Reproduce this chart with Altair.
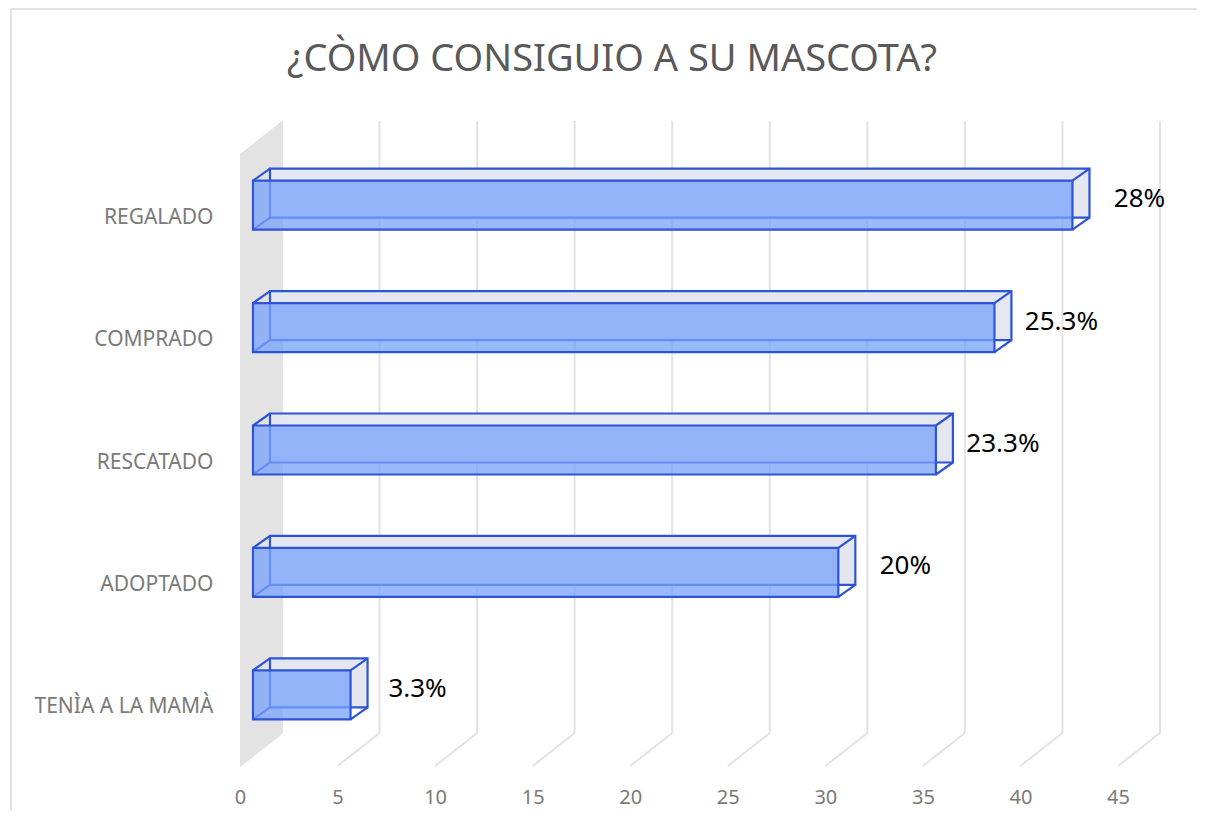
import json
import altair as alt
import pandas as pd

# ---------------- data ----------------
categories = ["REGALADO", "COMPRADO", "RESCATADO", "ADOPTADO", "TENÌA A LA MAMÀ"]
counts = [42, 38, 35, 30, 5]
pct_labels = ["28%", "25.3%", "23.3%", "20%", "3.3%"]
x_ticks = [0, 5, 10, 15, 20, 25, 30, 35, 40, 45]
title_text = "¿CÒMO CONSIGUIO A SU MASCOTA?"

# ---------------- style ----------------
W, H = 878, 612
BAR_DX, BAR_DY = 17, -12       # depth of each 3D bar
WALL_DX, WALL_DY = 29, -23     # back wall relative to bar front plane
FLOOR_DX, FLOOR_DY = -13, 10   # front floor edge relative to bar front plane
HALF = 0.2                     # half bar thickness (in category units)
BLUE = "#2D54D6"
FRONT = "#78A2FC"
SIDE = "#E4E7EF"
GRID = "#E3E3E3"
WALL = "#E3E3E3"
FONT = "Noto Sans"
LABEL_GREY = "#7A7A7A"

bars = pd.DataFrame({"cat": categories, "count": counts, "label": pct_labels})
bars["idx"] = range(len(categories))
bars["y0"] = bars["idx"] + 0.5 - HALF
bars["y1"] = bars["idx"] + 0.5 + HALF
bars["yc"] = bars["idx"] + 0.5
bars["zero"] = 0

corners = pd.concat([
    bars.assign(cx=0, cy=bars["y0"]),
    bars.assign(cx=bars["count"], cy=bars["y0"]),
    bars.assign(cx=bars["count"], cy=bars["y1"]),
    bars.assign(cx=0, cy=bars["y1"]),
], ignore_index=True)

grid = pd.DataFrame({"t": x_ticks})
grid["top"] = 0
grid["bot"] = len(categories)

wall = pd.DataFrame({"x0": [0], "ytop": [0]})
one = pd.DataFrame({"a": [0]})

xs = alt.Scale(domain=[0, 45], nice=False, zero=False)
ys = alt.Scale(domain=[0, len(categories)], nice=False, zero=False, reverse=True)

label_expr = json.dumps(categories, ensure_ascii=False) + "[floor(datum.value)]"

XAX = alt.Axis(values=x_ticks, labelOffset=FLOOR_DX, domain=False, ticks=False, grid=False,
               labelPadding=31, labelFontSize=20, labelFont=FONT, labelColor=LABEL_GREY,
               labelFlush=False, labelOverlap=False, title=None)
YAX = alt.Axis(values=[i + 0.5 for i in range(len(categories))], labelExpr=label_expr,
               labelOffset=12, domain=False, ticks=False, grid=False, labelPadding=40,
               labelFontSize=21, labelFont=FONT, labelColor=LABEL_GREY, labelAlign="right",
               labelOverlap=False, title=None)


def X(field):
    return alt.X(field, scale=xs, axis=XAX)


def Y(field):
    return alt.Y(field, scale=ys, axis=YAX)


# back wall (parallelogram drawn as a pixel-scaled symbol)
wdx = WALL_DX - FLOOR_DX
wdy = WALL_DY - FLOOR_DY
wall_path = f"M0,0L{wdx},{wdy}L{wdx},{H + wdy}L0,{H}Z"
wall_layer = alt.Chart(wall).mark_point(
    shape=wall_path, size=4, filled=True, fill=WALL, fillOpacity=1,
    strokeOpacity=0, xOffset=FLOOR_DX, yOffset=FLOOR_DY,
).encode(x=X("x0:Q"), y=Y("ytop:Q"))

grid_v = alt.Chart(grid).mark_rule(
    color=GRID, strokeWidth=2, xOffset=WALL_DX, yOffset=WALL_DY, y2Offset=WALL_DY
).encode(x=X("t:Q"), y=Y("top:Q"), y2="bot:Q")

grid_d = alt.Chart(grid).mark_rule(
    color=GRID, strokeWidth=2, xOffset=WALL_DX, yOffset=WALL_DY,
    x2Offset=FLOOR_DX, y2Offset=FLOOR_DY
).encode(x=X("t:Q"), x2="t:Q", y=Y("bot:Q"), y2="bot:Q")

back = alt.Chart(bars).mark_rect(
    fill=SIDE, stroke=BLUE, strokeWidth=2.2,
    xOffset=BAR_DX, x2Offset=BAR_DX, yOffset=BAR_DY, y2Offset=BAR_DY,
).encode(x=X("zero:Q"), x2="count:Q", y=Y("y0:Q"), y2="y1:Q")

edges = alt.Chart(corners).mark_rule(
    stroke=BLUE, strokeWidth=2.2, x2Offset=BAR_DX, y2Offset=BAR_DY,
).encode(x=X("cx:Q"), x2="cx:Q", y=Y("cy:Q"), y2="cy:Q")

front = alt.Chart(bars).mark_rect(
    fill=FRONT, fillOpacity=0.75, stroke=BLUE, strokeWidth=2.2,
).encode(x=X("zero:Q"), x2="count:Q", y=Y("y0:Q"), y2="y1:Q",
         tooltip=["cat:N", "count:Q", "label:N"])

values = alt.Chart(bars).mark_text(
    dx=67, dy=-6, fontSize=26, font=FONT, color="black", align="center", baseline="middle",
).encode(x=X("count:Q"), y=Y("yc:Q"), text="label:N")

border_top = alt.Chart(one).mark_rule(color="#D9D9D9", strokeWidth=1.5).encode(
    x=alt.value(-242), x2=alt.value(W + 80), y=alt.value(-135))
border_left = alt.Chart(one).mark_rule(color="#D9D9D9", strokeWidth=1.5).encode(
    x=alt.value(-242), y=alt.value(-135), y2=alt.value(H + 70))

chart = alt.layer(
    wall_layer, grid_v, grid_d, back, edges, front, values, border_top, border_left
).properties(
    width=W, height=H, background="white",
    title=alt.TitleParams(text=title_text, font=FONT, fontSize=38, fontWeight="normal",
                          color="#595959", anchor="middle", frame="group", dx=-80, dy=75),
    autosize=alt.AutoSizeParams(type="none"),
    padding={"left": 245, "top": 136, "right": 66, "bottom": 55},
).configure_view(stroke=None, strokeWidth=0)

chart.save("out.html", embed_options={"renderer": "svg", "actions": False})
